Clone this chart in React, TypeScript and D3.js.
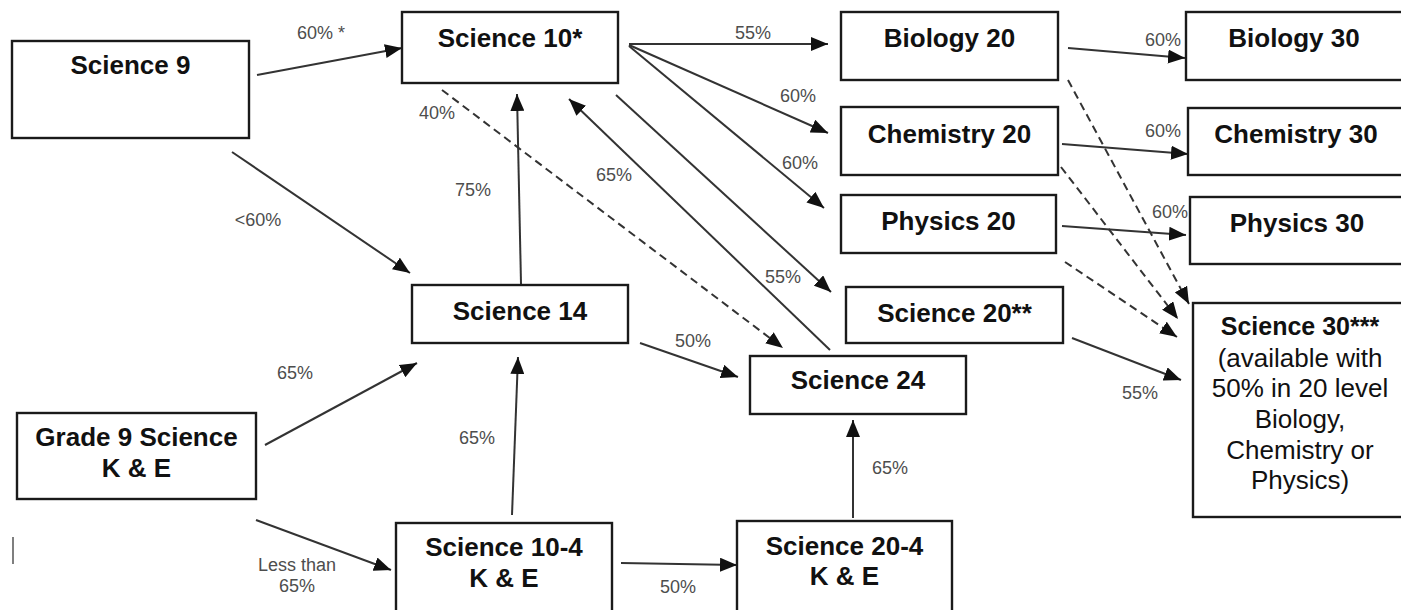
import { useEffect, useRef } from "react";
import * as d3 from "d3";

// course boxes: id + text lines (first line bold)
const courseIds = ["sci9", "sci10", "bio20", "chem20", "phys20", "bio30", "chem30", "phys30", "sci20", "sci30", "sci14", "sci24", "sci104", "sci204", "gr9"];
const courseLines: string[][] = [
    ["Science 9"],
    ["Science 10*"],
    ["Biology 20"],
    ["Chemistry 20"],
    ["Physics 20"],
    ["Biology 30"],
    ["Chemistry 30"],
    ["Physics 30"],
    ["Science 20**"],
    ["Science 30***", "(available with", "50% in 20 level", "Biology,", "Chemistry or", "Physics)"],
    ["Science 14"],
    ["Science 24"],
    ["Science 10-4", "K & E"],
    ["Science 20-4", "K & E"],
    ["Grade 9 Science", "K & E"],
];

// pathways: from, to, requirement label, dashed
const linkFrom = ["sci9", "sci9", "sci10", "sci10", "sci10", "sci10", "sci14", "sci24", "sci10", "sci14", "gr9", "gr9", "sci104", "sci104", "sci204", "bio20", "chem20", "phys20", "bio20", "chem20", "phys20", "sci20"];
const linkTo = ["sci10", "sci14", "bio20", "chem20", "phys20", "sci24", "sci10", "sci10", "sci20", "sci24", "sci14", "sci104", "sci14", "sci204", "sci24", "bio30", "chem30", "phys30", "sci30", "sci30", "sci30", "sci30"];
const linkLabels: string[][] = [
    ["60% *"], ["<60%"], ["55%"], ["60%"], ["60%"], ["40%"], ["75%"], ["65%"], ["55%"], ["50%"], ["65%"], ["Less than", "65%"],
    ["65%"], ["50%"], ["65%"], ["60%"], ["60%"], ["60%"], [], [], [], ["55%"],
];
const linkDashed = [false, false, false, false, false, true, false, false, false, false, false, false, false, false, false, false, false, false, true, true, true, false];

// ---- layout (pixel positions) ----
const boxRects: Record<string, [number, number, number, number]> = {
    sci9: [12, 41, 249, 138],
    sci10: [402, 12, 618, 83],
    bio20: [841, 12, 1058, 80],
    chem20: [841, 107, 1058, 175],
    phys20: [841, 195, 1056, 253],
    bio30: [1186, 12, 1406, 80],
    chem30: [1188, 108, 1406, 175],
    phys30: [1190, 197, 1406, 264],
    sci20: [846, 287, 1063, 343],
    sci30: [1193, 303, 1406, 517],
    sci14: [412, 285, 628, 343],
    sci24: [750, 356, 966, 414],
    sci104: [396, 523, 612, 625],
    sci204: [737, 521, 952, 625],
    gr9: [17, 413, 256, 499],
};
const textBaselines: Record<string, number[]> = {
    sci9: [74],
    sci10: [47],
    bio20: [47],
    chem20: [143],
    phys20: [230],
    bio30: [47],
    chem30: [143],
    phys30: [232],
    sci20: [322],
    sci30: [335, 367, 397, 428, 459, 489],
    sci14: [320],
    sci24: [389],
    sci104: [556, 587],
    sci204: [555, 585],
    gr9: [446, 477],
};
const textCenterX: Record<string, number> = { bio30: 1294, chem30: 1296, phys30: 1297, sci30: 1300 };

const linkPoints: [number, number, number, number][] = [
    [257, 75, 402, 48],
    [232, 152, 410, 273],
    [629, 44, 828, 44],
    [629, 45, 828, 133],
    [629, 46, 824, 208],
    [442, 90, 783, 348],
    [521, 284, 517, 94],
    [830, 350, 569, 99],
    [616, 95, 831, 292],
    [640, 343, 738, 377],
    [265, 445, 417, 363],
    [256, 520, 391, 570],
    [512, 515, 518, 357],
    [621, 563, 737, 565],
    [853, 518, 853, 420],
    [1068, 48, 1185, 58],
    [1062, 144, 1188, 154],
    [1062, 226, 1186, 235],
    [1068, 80, 1189, 304],
    [1061, 167, 1178, 319],
    [1065, 262, 1177, 337],
    [1072, 338, 1181, 380],
];
const labelPos: [number, number][] = [
    [321, 39], [258, 226], [753, 39], [798, 102], [800, 169], [437, 119], [473, 196], [614, 181], [783, 283], [693, 347],
    [295, 379], [297, 571], [477, 444], [678, 593], [890, 474], [1163, 46], [1163, 137], [1170, 218], [0, 0], [0, 0], [0, 0], [1140, 399],
];

export default function App() {
    const svgRef = useRef<SVGSVGElement>(null);

    useEffect(() => {
        if (!svgRef.current) return;
        document.body.style.margin = "0";
        const svg = d3.select(svgRef.current);
        svg.selectAll("*").remove();

        svg.append("rect").attr("width", 1401).attr("height", 610).attr("fill", "white");

        svg.append("defs")
            .append("marker")
            .attr("id", "arrow")
            .attr("markerUnits", "userSpaceOnUse")
            .attr("markerWidth", 18)
            .attr("markerHeight", 14)
            .attr("refX", 17)
            .attr("refY", 7)
            .attr("orient", "auto")
            .append("path")
            .attr("d", "M0,0 L17,7 L0,14 Z")
            .attr("fill", "#111");

        const line = d3.line();
        const links = linkFrom.map((f, i) => ({ from: f, to: linkTo[i], labels: linkLabels[i], dashed: linkDashed[i], pts: linkPoints[i], lp: labelPos[i] }));

        svg.append("g")
            .selectAll("path")
            .data(links)
            .enter()
            .append("path")
            .attr("d", (d) => line([[d.pts[0], d.pts[1]], [d.pts[2], d.pts[3]]]))
            .attr("stroke", "#333")
            .attr("stroke-width", 2)
            .attr("stroke-dasharray", (d) => (d.dashed ? "8,5" : null))
            .attr("fill", "none")
            .attr("marker-end", "url(#arrow)");

        const lbl = svg.append("g")
            .attr("font-family", "'Liberation Sans', Arial, sans-serif")
            .attr("font-size", 18)
            .attr("fill", "#4d4d4d")
            .attr("text-anchor", "middle");
        links.forEach((d) => {
            d.labels.forEach((t, j) => {
                lbl.append("text").attr("x", d.lp[0]).attr("y", d.lp[1] + j * 21).text(t);
            });
        });

        const boxes = svg.append("g")
            .selectAll("g")
            .data(courseIds.map((id, i) => ({ id, lines: courseLines[i] })))
            .enter()
            .append("g");

        boxes.append("rect")
            .attr("x", (d) => boxRects[d.id][0])
            .attr("y", (d) => boxRects[d.id][1])
            .attr("width", (d) => boxRects[d.id][2] - boxRects[d.id][0])
            .attr("height", (d) => boxRects[d.id][3] - boxRects[d.id][1])
            .attr("fill", "none")
            .attr("stroke", "#1a1a1a")
            .attr("stroke-width", 2.4);

        boxes.each(function (d) {
            const g = d3.select(this);
            const r = boxRects[d.id];
            const cx = textCenterX[d.id] ?? (r[0] + r[2]) / 2;
            d.lines.forEach((t, j) => {
                const bold = d.id !== "sci30" || j === 0;
                g.append("text")
                    .attr("x", cx)
                    .attr("y", textBaselines[d.id][j])
                    .attr("text-anchor", "middle")
                    .attr("font-family", "'Liberation Sans', Arial, sans-serif")
                    .attr("font-size", bold ? (d.id === "sci30" ? 25 : 26) : 26)
                    .attr("font-weight", bold ? "bold" : "normal")
                    .attr("fill", "#111")
                    .text(t);
            });
        });

        // stray cursor mark at the left edge
        svg.append("line")
            .attr("x1", 13).attr("x2", 13).attr("y1", 537).attr("y2", 564)
            .attr("stroke", "#555").attr("stroke-width", 1.5);
    }, []);

    return <svg ref={svgRef} width={1401} height={610} style={{ display: "block" }} />;
}
